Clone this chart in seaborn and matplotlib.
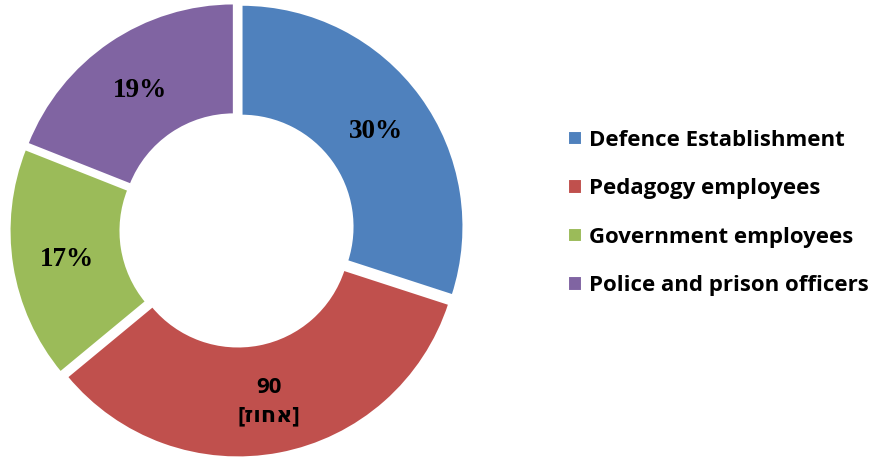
import matplotlib
matplotlib.use("Agg")
import matplotlib.pyplot as plt
import seaborn as sns
import numpy as np

categories = ["Defence Establishment", "Pedagogy employees",
              "Government employees", "Police and prison officers"]
values = [30, 34, 17, 19]
slice_labels = ["30%", "90\n[\u05d6\u05d5\u05d7\u05d0]", "17%", "19%"]
label_fonts = ["serif", "sans", "serif", "serif"]
colors_hex = ["#4F81BD", "#C0504D", "#9BBB59", "#8064A2"]

sns.set_theme(style="white")
SANS = ["Open Sans", "DejaVu Sans"]
plt.rcParams["font.family"] = SANS
plt.rcParams["text.color"] = "black"
palette = sns.color_palette(colors_hex)

fig = plt.figure(figsize=(8.71, 4.59), dpi=100)
R_px = 222.0
lim = 1.03
size = 2 * lim * R_px
cx, cy = 237, 459 - 230
ax = fig.add_axes([(cx - size / 2) / 871, (cy - size / 2) / 459, size / 871, size / 459])

wedges, _ = ax.pie(values, colors=palette, startangle=90, counterclock=False,
                   explode=[0.025] * len(values), radius=1.0,
                   wedgeprops=dict(width=0.5, edgecolor="white", linewidth=1.5))
ax.set_xlim(-lim, lim)
ax.set_ylim(-lim, lim)
ax.set_aspect("equal")
ax.axis("off")

for w, lab, ff in zip(wedges, slice_labels, label_fonts):
    ang = np.deg2rad((w.theta1 + w.theta2) / 2)
    r = 0.75
    x = w.center[0] + r * np.cos(ang)
    y = w.center[1] + r * np.sin(ang) - 0.012
    if ff == "serif":
        ax.text(x, y, lab, ha="center", va="center", fontsize=19.5, fontweight="bold",
                family=["Liberation Serif", "DejaVu Serif"], color="black")
    else:
        ax.text(x, y, lab, ha="center", va="center", fontsize=16, fontweight="bold",
                family=SANS, color="black", linespacing=1.45)

leg = fig.legend(wedges, categories, loc="center left",
                 bbox_to_anchor=(568 / 871, (459 - 213) / 459),
                 frameon=False, handlelength=0.63, handleheight=0.63,
                 handletextpad=0.32, labelspacing=1.24, borderpad=0, borderaxespad=0,
                 labelcolor="black",
                 prop=dict(family=SANS, weight="bold", size=16))

fig.savefig("out.png", dpi=100, facecolor="white")
